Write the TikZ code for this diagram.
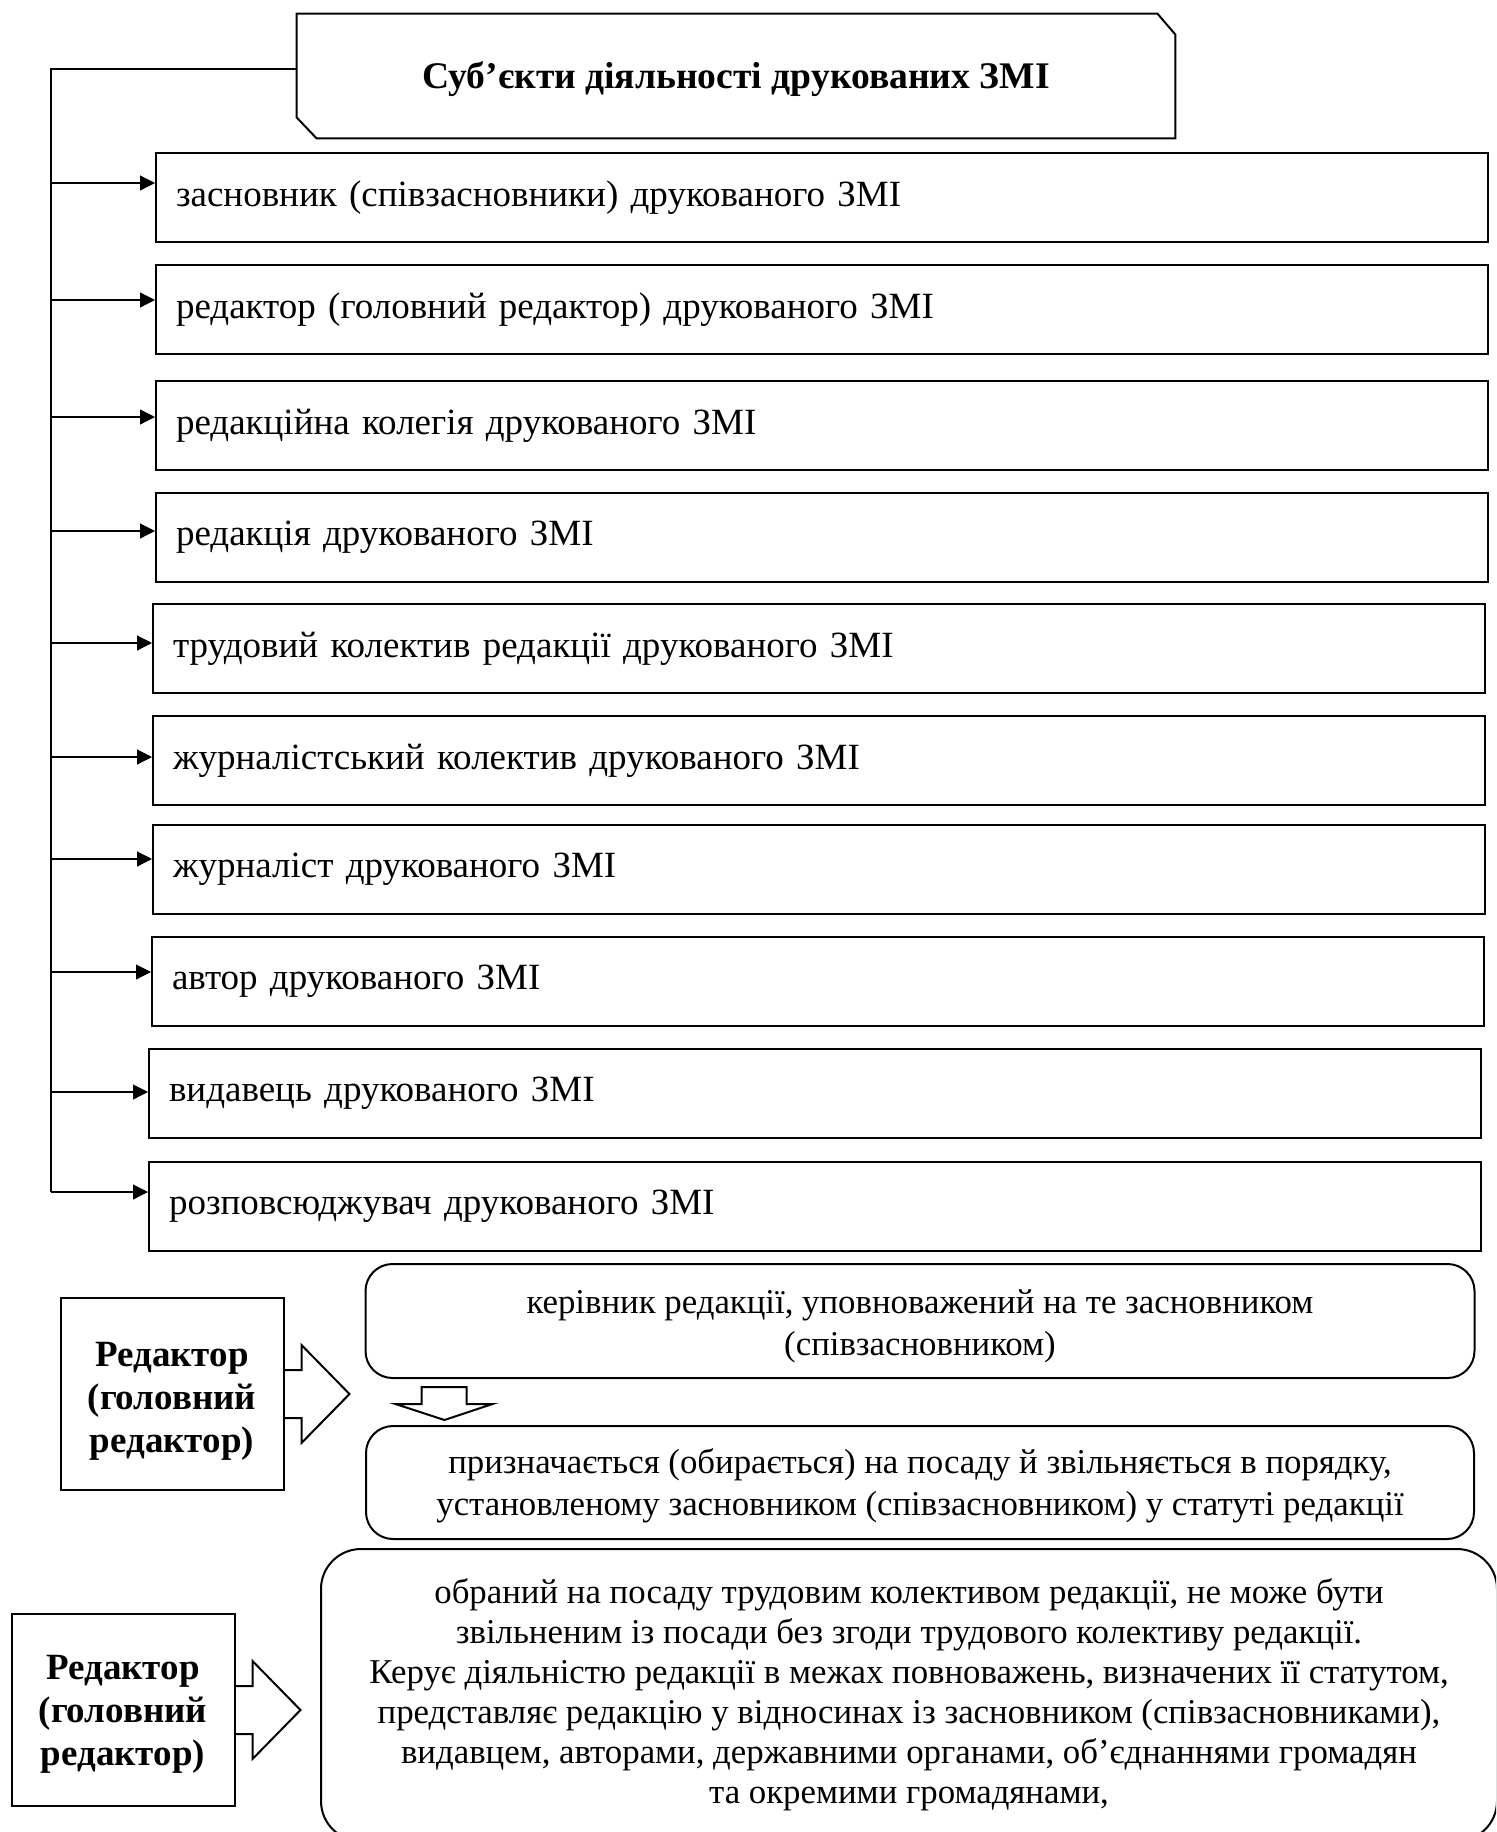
\documentclass[tikz,border=0pt]{standalone}
\usepackage{fontspec}
\setmainfont{Liberation Serif}
\usetikzlibrary{arrows.meta,calc}

\begin{document}
\begin{tikzpicture}[x=0.5pt,y=-0.5pt,
  every node/.style={font=\fontsize{18.5}{21}\selectfont},
  subjbox/.style={draw,line width=1pt,anchor=north west,minimum height=44.5pt,text width=646pt,inner xsep=10pt,align=left},
  conn/.style={line width=0.6pt,-{Triangle[length=7.5pt,width=7.5pt]}},
  edbox/.style={draw,line width=1pt,minimum width=111.5pt,minimum height=96pt},
  edtext/.style={align=center,font=\fontsize{18.5}{21.5}\selectfont\bfseries},
  roundbox/.style={draw,line width=1pt,rounded corners=13.5pt,align=center,font=\fontsize{17.4}{21}\selectfont},
  blockarrow/.style={line width=1pt,line join=miter}]
  \useasboundingbox (0,0) rectangle (1496,1832);
  \clip (0,0) rectangle (1496,1832);
  \fill[white] (0,0) rectangle (1496,1832);

  % heading and the spine on the left
  \node[minimum width=439pt,minimum height=62pt,font=\fontsize{18.8}{21}\selectfont\bfseries] (title) at (736,76)
    {\rule{0pt}{16.5pt}Суб’єкти діяльності друкованих ЗМІ};
  \draw[line width=1pt] (title.north west) -- ([xshift=-9pt]title.north east) -- ([yshift=-10.5pt]title.north east)
    -- (title.south east) -- ([xshift=10pt]title.south west) -- ([yshift=10.5pt]title.south west) -- cycle;
  \coordinate (spinetop) at (51,69);

  \foreach \i/\lx/\ty/\ay/\txt in {
    1/155/152/183/{засновник (співзасновники) друкованого ЗМІ},
    2/155/264/300/{редактор (головний редактор) друкованого ЗМІ},
    3/155/380/417/{редакційна колегія друкованого ЗМІ},
    4/155/492/531/{редакція друкованого ЗМІ},
    5/152/603/643/{трудовий колектив редакції друкованого ЗМІ},
    6/152/715/757/{журналістський колектив друкованого ЗМІ},
    7/152/824/859/{журналіст друкованого ЗМІ},
    8/151/936/972/{автор друкованого ЗМІ},
    9/148/1048/1092/{видавець друкованого ЗМІ},
    10/148/1161/1192/{розповсюджувач друкованого ЗМІ}}{
    \node[subjbox] (s\i) at (\lx,\ty) {\txt};
    \coordinate (a\i) at (51,\ay);
    \draw[conn] (a\i) -- (a\i -| s\i.west);
  }
  \draw[line width=0.6pt] (spinetop -| title.west) -- (spinetop) -- (a10);

  % editor: appointed by the founder
  \node[edbox] (ed1) at (172,1394) {};
  \node[edtext] (ed1t) at ([yshift=-3.5pt]ed1.center) {Редактор\\(головний\\редактор)};
  \node[roundbox,minimum width=554.5pt,minimum height=57pt] (r1) at (920,1321)
    {\rule{0pt}{17pt}керівник редакції, уповноважений на те засновником\\(співзасновником)};
  \node[roundbox,minimum width=554pt,minimum height=56.5pt] (r2) at (920,1482.5)
    {\rule{0pt}{16pt}призначається (обирається) на посаду й звільняється в порядку,\\установленому засновником (співзасновником) у статуті редакції};
  \draw[blockarrow] ([shift={(57,8)}]r1.south west) -- ++(45,0) -- ++(0,17) -- ++(26,0)
    -- ([shift={(80,41)}]r1.south west) -- ([shift={(31,25)}]r1.south west) -- ++(26,0) -- cycle;

  % editor: elected by the staff
  \node[edbox] (ed2) at (123,1710) {};
  \node[edtext] (ed2t) at ([yshift=-2pt]ed2.center) {Редактор\\(головний\\редактор)};
  \node[roundbox,rounded corners=20pt,minimum width=588pt,minimum height=146pt,
    font=\fontsize{17.4}{20}\selectfont] (duty) at (909,1695)
    {обраний на посаду трудовим колективом редакції, не може бути\\
     звільненим із посади без згоди трудового колективу редакції.\\
     Керує діяльністю редакції в межах повноважень, визначених її статутом,\\
     представляє редакцію у відносинах із засновником (співзасновниками),\\
     видавцем, авторами, державними органами, об’єднаннями громадян\\
     та окремими громадянами,};

  \foreach \n in {ed1,ed2}
    \draw[blockarrow] ([shift={(0,-24)}]\n.east) -- ++(17,0) -- ++(0,-25) -- ([shift={(65,0)}]\n.east)
      -- ([shift={(17,49)}]\n.east) -- ++(0,-25) -- ([shift={(0,24)}]\n.east);
\end{tikzpicture}
\end{document}
